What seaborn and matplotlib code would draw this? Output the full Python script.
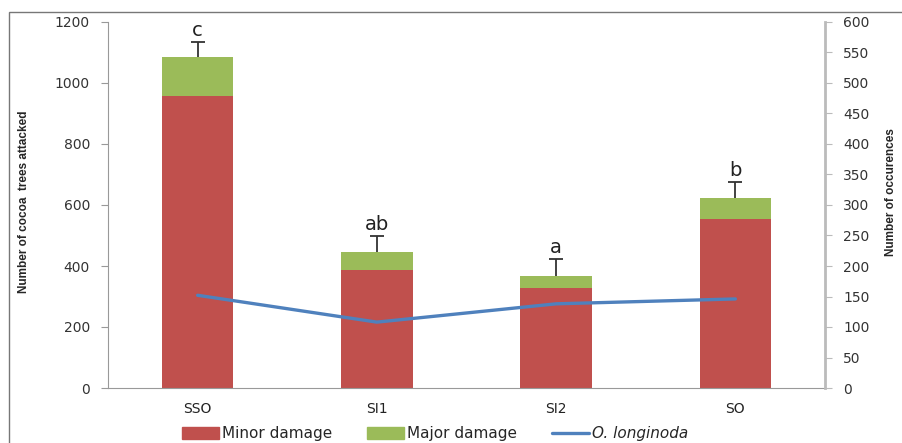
import numpy as np
import pandas as pd
import matplotlib.pyplot as plt
import seaborn as sns
from matplotlib.patches import Rectangle, Patch
from matplotlib.lines import Line2D

sns.set_style("white")
plt.rcParams["font.family"] = ["DejaVu Sans"]

sites = ["SSO", "SI1", "SI2", "SO"]
minor = [957, 387, 328, 554]
major = [128, 59, 39, 69]
err = [49, 52, 56, 52]
occurrences = [152, 108, 138, 146]
letters = ["c", "ab", "a", "b"]

red = "#C0504D"
green = "#9BBB59"
blue = "#4F81BD"
narrow = ["Liberation Sans Narrow", "Liberation Sans", "DejaVu Sans"]

df = pd.DataFrame({"site": sites, "minor": minor, "major": major,
                   "err": err, "occ": occurrences})
df["total"] = df["minor"] + df["major"]

fig = plt.figure(figsize=(9.03, 4.43), dpi=100)
ax = fig.add_axes([108 / 903, 1 - 388 / 443, 717 / 903, 366 / 443])

# stacked bars: total first, minor drawn over it
sns.barplot(data=df, x="site", y="total", color=green, width=0.4,
            saturation=1, ax=ax, errorbar=None, linewidth=0)
sns.barplot(data=df, x="site", y="minor", color=red, width=0.4,
            saturation=1, ax=ax, errorbar=None, linewidth=0)

xs = np.arange(len(sites))
eb = ax.errorbar(xs, df["total"], yerr=[np.zeros(len(sites)), df["err"]],
                 fmt="none", ecolor="#333333", elinewidth=1.3, capsize=5, capthick=1.3)
eb[1][0].set_visible(False)  # only the top cap
for x, t, e, lab in zip(xs, df["total"], df["err"], letters):
    ax.text(x, t + e + 6, lab, ha="center", va="bottom", fontsize=14, color="#222222")

ax.set_xlim(-0.5, 3.5)
ax.set_ylim(0, 1200)
ax.set_yticks(range(0, 1201, 200))
ax.set_xlabel("")
ax.set_ylabel("Number of cocoa  trees attacked", fontsize=8.5, fontweight="bold",
              family=narrow)
ax.yaxis.set_label_coords(-0.109, 0.51)
ax.tick_params(axis="y", direction="out", length=5, color="#999999",
               labelsize=10, labelcolor="#333333", left=True, pad=8)
ax.tick_params(axis="x", length=0, labelsize=10, labelcolor="#222222", pad=10)
for s in ["top", "right"]:
    ax.spines[s].set_visible(False)
for s in ["left", "bottom"]:
    ax.spines[s].set_color("#999999")

ax2 = ax.twinx()
sns.lineplot(x=xs, y=occurrences, color=blue, linewidth=2.4, ax=ax2)
ax2.set_ylim(0, 600)
ax2.set_yticks(range(0, 601, 50))
ax2.set_ylabel("Number of occurences", fontsize=8.5, fontweight="bold",
               family=narrow)
ax2.yaxis.set_label_coords(1.084, 0.535)
ax2.tick_params(axis="y", direction="out", length=5, color="#bbbbbb",
                labelsize=10, labelcolor="#333333", right=True, pad=8)
for s in ["top", "left", "bottom"]:
    ax2.spines[s].set_visible(False)
ax2.spines["right"].set_color("#bbbbbb")
ax2.spines["right"].set_linewidth(2)

handles = [Patch(color=red, label="Minor damage"),
           Patch(color=green, label="Major damage"),
           Line2D([], [], color=blue, linewidth=2.4, label="O. longinoda")]
leg = fig.legend(handles=handles, loc="lower center", bbox_to_anchor=(0.482, 0.004),
                 ncol=3, frameon=False, fontsize=11, handlelength=2.4,
                 handleheight=0.8, columnspacing=2.3, handletextpad=0.2,
                 borderaxespad=0, borderpad=0)
leg.get_texts()[2].set_style("italic")

fig.add_artist(Rectangle((9 / 903, -0.2), 1.2, 1 - 12 / 443 + 0.2,
                         transform=fig.transFigure, fill=False,
                         edgecolor="#777777", linewidth=1))

fig.savefig("out.png", dpi=100)
